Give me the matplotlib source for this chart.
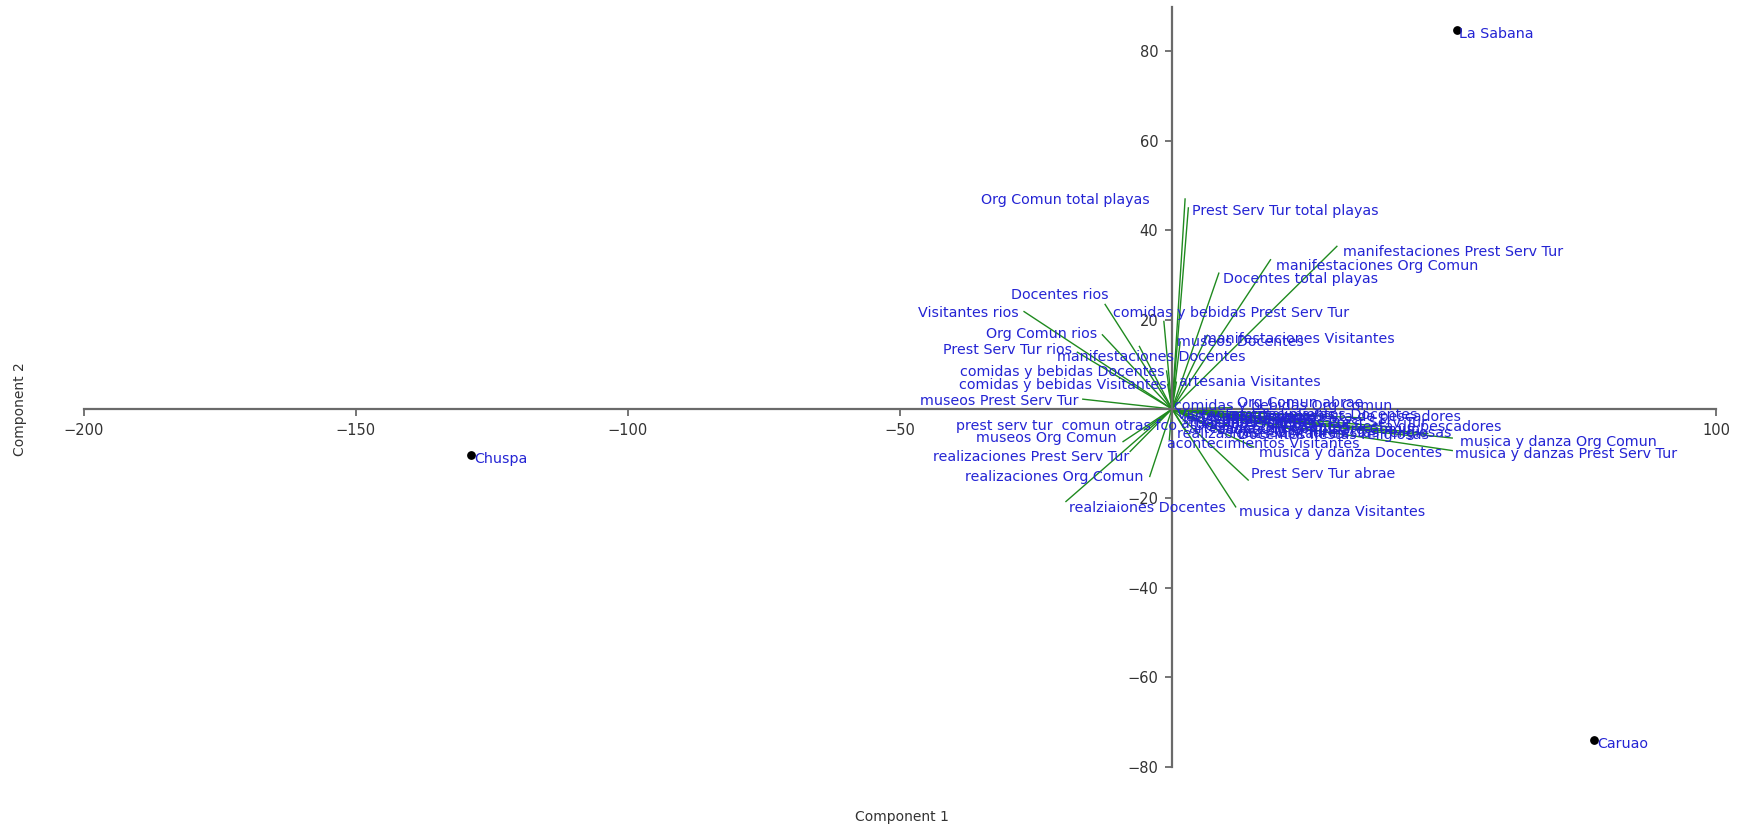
"""
PCA biplot: sites and variable loadings on components 1 and 2.
"""
import matplotlib
matplotlib.use("Agg")
import matplotlib.pyplot as plt

# sites (scores)
sites = ["La Sabana", "Chuspa", "Caruao"]
site_x = [52.3, -128.8, 77.6]
site_y = [84.8, -10.3, -74.1]

# variables (loadings)
var_names = [
    "Org Comun total playas", "Prest Serv Tur total playas",
    "manifestaciones Prest Serv Tur", "manifestaciones Org Comun",
    "Docentes total playas", "Docentes rios", "Visitantes rios",
    "comidas y bebidas Prest Serv Tur", "Org Comun rios",
    "manifestaciones Visitantes", "museos Docentes", "Prest Serv Tur rios",
    "manifestaciones Docentes", "comidas y bebidas Docentes",
    "comidas y bebidas Visitantes", "artesania Visitantes",
    "museos Prest Serv Tur", "comidas y bebidas Org Comun", "Org Comun abrae",
    "prest serv tur  comun otras fco", "museos Org Comun",
    "realizaciones Prest Serv Tur", "realizaciones Org Comun",
    "realziaiones Docentes", "musica y danza Visitantes",
    "Prest Serv Tur abrae", "musica y danza Docentes",
    "musica y danza Org Comun", "musica y danzas Prest Serv Tur",
    "acontecimientos Visitantes", "Visitantes total playas",
    "museos Visitantes", "artesania Prest Serv Tur", "artesania Org Comun",
    "artesania Docentes", "realizaciones Visitantes", "Docentes abrae",
    "Visitantes abrae", "acontecimientos Prest Serv Tur",
    "acontecimientos Org Comun", "acontecimientos Docentes",
    "Org Comun fiesta de pescadores", "Visitantes fiesta de pescadores",
    "Docentes fiestas religiosas", "Prest Serv Tur fiestas religiosas",
]
var_x = [2.4, 3.0, 30.3, 18.1, 8.6, -12.3, -27.2, -1.5, -12.8, 6.5, 1.5,
         -17.4, -6.0, -1.0, -0.8, 0.8, -16.4, 0.5, 11.0, -5.1, -9.0, -7.7,
         -4.1, -19.5, 11.7, 14.0, 15.0, 51.5, 51.5, -0.5, 3.0, 4.0, 6.0,
         8.0, 5.0, 2.5, 10.0, 12.0, 18.0, 22.0, 25.0, 35.0, 40.0, 44.0, 47.0]
var_y = [47.0, 45.0, 36.4, 33.4, 30.4, 23.4, 21.8, 19.6, 16.6, 16.5, 15.0,
         12.7, 14.0, 8.5, 5.5, 6.0, 2.2, 0.8, 0.3, -4.7, -7.3, -9.5, -15.1,
         -20.7, -21.9, -15.9, -8.5, -6.5, -9.3, -6.8, -1.5, -2.5, -3.0,
         -4.0, -1.8, -5.0, -3.5, -2.0, -3.0, -4.5, -1.5, -2.0, -4.0, -6.0, -5.5]

# where each variable label sits (data units, alignment) - layout only
label_at = {
    "Org Comun total playas": (-4.1, 46.7, "right"),
    "Prest Serv Tur total playas": (3.7, 44.2, "left"),
    "manifestaciones Prest Serv Tur": (31.4, 35.2, "left"),
    "manifestaciones Org Comun": (19.1, 31.9, "left"),
    "Docentes total playas": (9.4, 29.2, "left"),
    "Docentes rios": (-11.7, 25.45, "right"),
    "Visitantes rios": (-28.1, 21.45, "right"),
    "comidas y bebidas Prest Serv Tur": (-10.9, 21.45, "left"),
    "Org Comun rios": (-13.7, 16.7, "right"),
    "manifestaciones Visitantes": (5.7, 15.7, "left"),
    "museos Docentes": (1.0, 14.95, "left"),
    "Prest Serv Tur rios": (-18.3, 13.2, "right"),
    "manifestaciones Docentes": (-21.1, 11.7, "left"),
    "comidas y bebidas Docentes": (-1.4, 8.2, "right"),
    "comidas y bebidas Visitantes": (-1.0, 5.45, "right"),
    "artesania Visitantes": (1.2, 5.95, "left"),
    "museos Prest Serv Tur": (-17.2, 1.7, "right"),
    "comidas y bebidas Org Comun": (0.4, 0.7, "left"),
    "Org Comun abrae": (11.9, 1.3, "left"),
    "prest serv tur  comun otras fco": (1.0, -3.8, "right"),
    "museos Org Comun": (-10.1, -6.55, "right"),
    "realizaciones Prest Serv Tur": (-7.8, -10.8, "right"),
    "realizaciones Org Comun": (-5.3, -15.3, "right"),
    "realziaiones Docentes": (-18.9, -22.05, "left"),
    "musica y danza Visitantes": (12.3, -23.05, "left"),
    "Prest Serv Tur abrae": (14.6, -14.55, "left"),
    "musica y danza Docentes": (16.0, -9.8, "left"),
    "musica y danza Org Comun": (52.9, -7.3, "left"),
    "musica y danzas Prest Serv Tur": (52.1, -10.05, "left"),
    "acontecimientos Visitantes": (-1.0, -7.8, "left"),
    "Visitantes total playas": (1.0, -1.3, "left"),
    "museos Visitantes": (2.1, -2.55, "left"),
    "artesania Prest Serv Tur": (1.6, -3.3, "left"),
    "artesania Org Comun": (3.1, -4.55, "left"),
    "artesania Docentes": (2.5, -1.8, "left"),
    "realizaciones Visitantes": (1.0, -5.55, "left"),
    "Docentes abrae": (4.1, -3.8, "left"),
    "Visitantes abrae": (5.1, -2.3, "left"),
    "acontecimientos Prest Serv Tur": (6.2, -3.05, "left"),
    "acontecimientos Org Comun": (8.2, -4.8, "left"),
    "acontecimientos Docentes": (10.3, -1.3, "left"),
    "Org Comun fiesta de pescadores": (53.2, -1.8, "right"),
    "Visitantes fiesta de pescadores": (60.6, -4.05, "right"),
    "Docentes fiestas religiosas": (47.3, -5.8, "right"),
    "Prest Serv Tur fiestas religiosas": (51.3, -5.3, "right"),
}

LABEL_BLUE = "#2424d4"
LINE_GREEN = "#1f8a1f"
AXIS_GREY = "#6a6a6a"
LABEL_SIZE = 10.3

fig = plt.figure(figsize=(17.52, 8.30), dpi=100)
ax = fig.add_axes([0.0479, 0.0765, 0.9795 - 0.0479, 0.9918 - 0.0765])

ax.set_xlim(-200, 100)
ax.set_ylim(-80, 90)

# axes through the origin
for side in ("top", "right"):
    ax.spines[side].set_visible(False)
for side in ("left", "bottom"):
    ax.spines[side].set_position(("data", 0))
    ax.spines[side].set_color(AXIS_GREY)
    ax.spines[side].set_linewidth(1.6)

ax.set_xticks([-200, -150, -100, -50, 100])
ax.set_yticks([-80, -60, -40, -20, 20, 40, 60, 80])
ax.tick_params(direction="out", length=5, width=1.3, color=AXIS_GREY,
               labelsize=10.5, labelcolor="#333333", pad=5)

# loading vectors
for vx, vy in zip(var_x, var_y):
    ax.plot([0, vx], [0, vy], color=LINE_GREEN, lw=1.0, zorder=2)

for name in var_names:
    lx, ly, ha = label_at[name]
    ax.text(lx, ly, name, color=LABEL_BLUE, fontsize=LABEL_SIZE, ha=ha,
            va="center", zorder=4)

# site scores
ax.scatter(site_x, site_y, s=28, color="black", zorder=5)
for name, sx, sy in zip(sites, site_x, site_y):
    ax.annotate(name, (sx, sy), xytext=(2, -3), textcoords="offset points",
                color=LABEL_BLUE, fontsize=LABEL_SIZE, ha="left", va="center",
                zorder=5)

fig.text(0.515, 0.016, "Component 1", ha="center", va="center",
         fontsize=10, color="#333333")
fig.text(0.0115, 0.507, "Component 2", ha="center", va="center",
         rotation=90, fontsize=10, color="#333333")

fig.savefig("out.png", dpi=100)
plt.close(fig)
